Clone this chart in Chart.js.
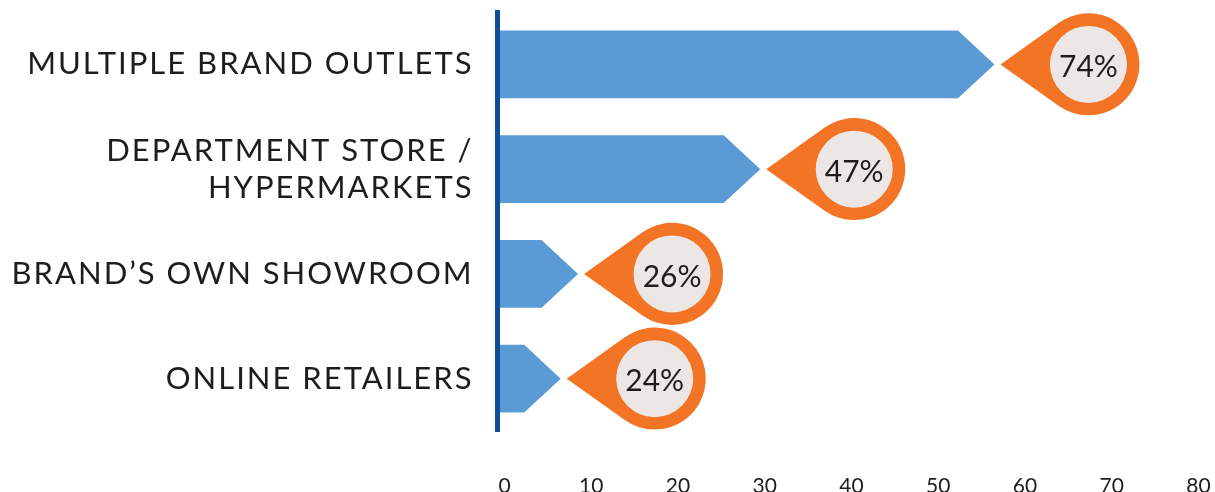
<!DOCTYPE html>
<html>
<head>
<meta charset="utf-8">
<script src="https://cdn.jsdelivr.net/npm/chart.js@4"></script>
<style>
  html, body { margin: 0; padding: 0; background: #ffffff; }
  #wrap { width: 1215px; height: 492px; }
</style>
</head>
<body>
<div id="wrap"><canvas id="chart" width="1215" height="492"></canvas></div>
<script>
// Where shoppers buy: share of respondents per channel (%)
const categories = [
  'MULTIPLE BRAND OUTLETS',
  ['DEPARTMENT STORE /', 'HYPERMARKETS'],
  'BRAND\u2019S OWN SHOWROOM',
  'ONLINE RETAILERS'
];
const shares = [74, 47, 26, 24];
const axisTicks = [0, 10, 20, 30, 40, 50, 60, 70, 80];

const BAR_BLUE = '#5B9BD5';
const PIN_ORANGE = '#F37424';
const PIN_FACE = '#ECE7E5';
const AXIS_BLUE = '#0E4D98';
const INK = '#1d1d1b';
const FONT = 'Lato, "Open Sans", sans-serif';

// Each row is an arrow-headed bar followed by a map pin; the pin's far
// edge sits on the row's value, so bar + pin together span 0..value.
const pinRows = {
  id: 'pinRows',
  beforeDraw(chart) {
    // tracked caps for the category labels (drawn under the datasets)
    chart.ctx.letterSpacing = '2px';
  },
  afterDatasetsDraw(chart) {
    const ctx = chart.ctx;
    const meta = chart.getDatasetMeta(0);
    const R = 51;        // pin outer radius
    const r = 38.5;      // pin face radius
    const reach = 88;    // pin point to pin centre
    const gap = 6;       // space between arrow tip and pin point
    const head = 36.5;   // arrow head length
    ctx.letterSpacing = '0px';
    ctx.save();
    meta.data.forEach((el, i) => {
      const p = el.getProps(['x', 'y', 'base', 'height'], true);
      const h2 = p.height / 2;
      const cx = p.x - R;
      const px = cx - reach;
      const tip = px - gap;
      const neck = tip - head;

      ctx.fillStyle = BAR_BLUE;
      ctx.beginPath();
      ctx.moveTo(p.base, p.y - h2);
      ctx.lineTo(neck, p.y - h2);
      ctx.lineTo(tip, p.y);
      ctx.lineTo(neck, p.y + h2);
      ctx.lineTo(p.base, p.y + h2);
      ctx.closePath();
      ctx.fill();

      const a = Math.acos(R / reach);
      ctx.fillStyle = PIN_ORANGE;
      ctx.beginPath();
      ctx.moveTo(px, p.y);
      ctx.arc(cx, p.y, R, Math.PI + a, 3 * Math.PI - a);
      ctx.closePath();
      ctx.fill();

      ctx.fillStyle = PIN_FACE;
      ctx.beginPath();
      ctx.arc(cx, p.y, r, 0, 2 * Math.PI);
      ctx.fill();

      ctx.fillStyle = INK;
      ctx.font = '400 30px ' + FONT;
      ctx.textAlign = 'center';
      ctx.textBaseline = 'middle';
      ctx.fillText(shares[i] + '%', cx, p.y + 3);
    });
    ctx.restore();
  }
};

new Chart(document.getElementById('chart'), {
  type: 'bar',
  data: {
    labels: categories,
    datasets: [{
      data: shares,
      backgroundColor: 'rgba(0,0,0,0)',
      borderWidth: 0,
      categoryPercentage: 0.645,
      barPercentage: 1
    }]
  },
  options: {
    indexAxis: 'y',
    responsive: false,
    devicePixelRatio: 1,
    animation: false,
    layout: { padding: { top: 12, right: 23.5, bottom: 0, left: 0 } },
    plugins: { legend: { display: false }, tooltip: { enabled: false } },
    scales: {
      x: {
        type: 'linear',
        min: 0,
        max: 80,
        grid: { display: false, drawTicks: false },
        border: { display: false },
        afterBuildTicks: s => { s.ticks = axisTicks.map(v => ({ value: v })); },
        afterFit: s => { s.height = 61; s.paddingLeft = 0; s.paddingRight = 0; },
        ticks: {
          z: 2,
          padding: 43,
          labelOffset: 7,
          color: INK,
          autoSkip: false,
          maxRotation: 0,
          font: { family: FONT, size: 21 }
        }
      },
      y: {
        grid: { display: false, drawTicks: false },
        border: { display: true, color: AXIS_BLUE, width: 5, z: 1 },
        afterFit: s => { s.width = 497.5; s.paddingTop = 0; s.paddingBottom = 0; },
        ticks: {
          padding: 24,
          color: INK,
          autoSkip: false,
          font: { family: FONT, size: 31, lineHeight: 1.2 }
        }
      }
    }
  },
  plugins: [pinRows]
});
</script>
</body>
</html>
